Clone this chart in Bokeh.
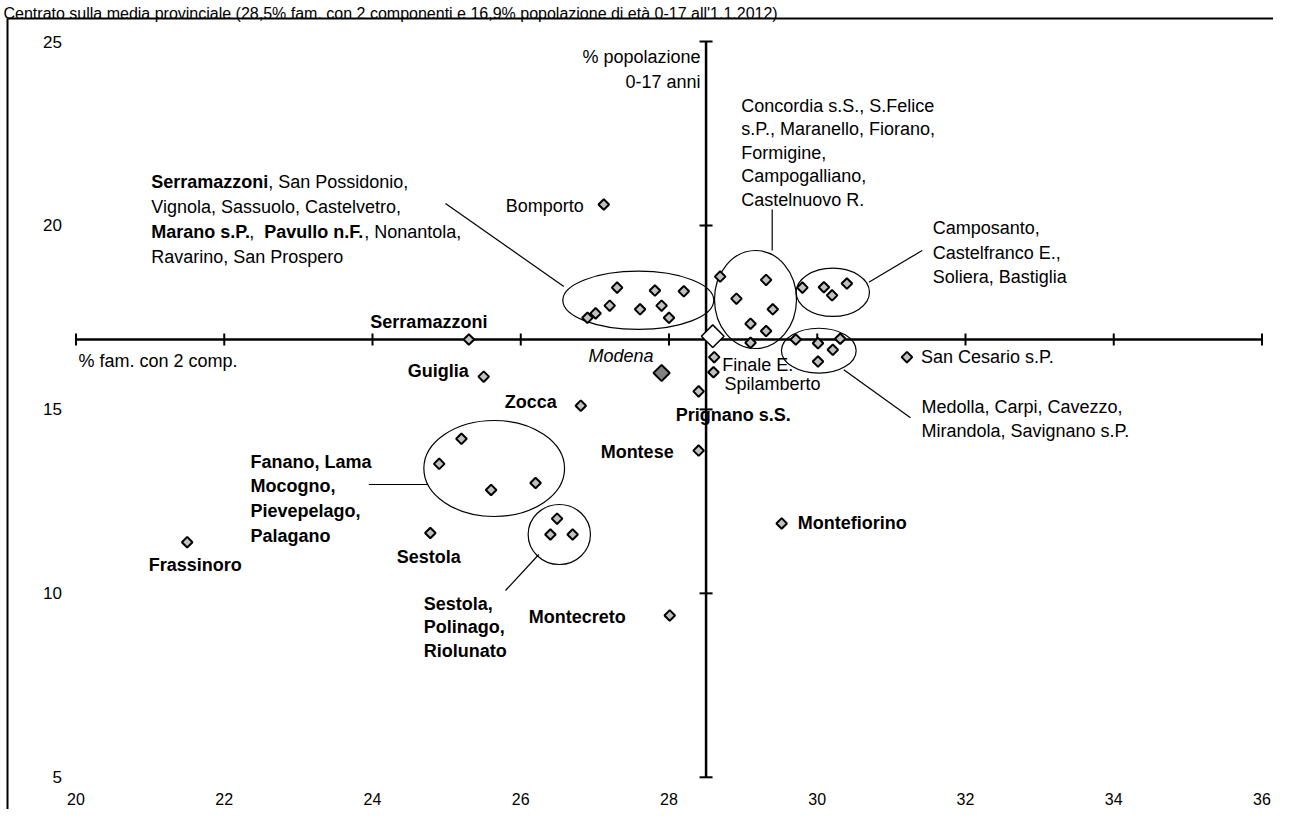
import numpy as np
from bokeh.plotting import figure
from bokeh.models import Range1d
from bokeh.core.properties import value
from bokeh.embed import file_html
from bokeh.resources import INLINE

# ---------------- data ----------------
title_text = ("Centrato sulla media provinciale (28,5% fam. con 2 componenti e 16,9% "
              "popolazione di età 0-17 all'1.1.2012)")
x_ticks = [20, 22, 24, 26, 28, 30, 32, 34, 36]
y_ticks = [5, 10, 15, 20, 25]
x_tick_labels = ["20", "22", "24", "26", "28", "30", "32", "34", "36"]
y_tick_labels = ["5", "10", "15", "20", "25"]

cross_x, cross_y = 28.5, 16.9          # provincial averages (axis crossing)
prov_x, prov_y = 28.59, 16.99          # province point (white diamond)
modena_x, modena_y = 27.90, 15.99      # Modena (dark diamond)

# groups circled in the chart
serr_x = [26.90, 27.01, 27.20, 27.30, 27.61, 27.81, 27.90, 28.00, 28.20]
serr_y = [17.49, 17.61, 17.82, 18.31, 17.72, 18.23, 17.82, 17.49, 18.21]
conc_x = [28.69, 29.31, 28.91, 29.40, 29.10, 29.31, 29.10]
conc_y = [18.61, 18.52, 18.01, 17.72, 17.33, 17.13, 16.81]
camp_x = [29.80, 30.09, 30.20, 30.40]
camp_y = [18.31, 18.32, 18.10, 18.42]
medo_x = [29.71, 30.01, 30.31, 30.21, 30.01]
medo_y = [16.90, 16.80, 16.92, 16.62, 16.30]
fana_x = [25.20, 24.90, 25.60, 26.20]
fana_y = [14.20, 13.52, 12.81, 13.00]
sest_x = [26.49, 26.40, 26.70]
sest_y = [12.03, 11.60, 11.60]

# single labelled municipalities
single_names = ["Bomporto", "Serramazzoni", "Guiglia", "Zocca", "Finale E.", "Spilamberto",
                "Prignano s.S.", "Montese", "San Cesario s.P.", "Sestola", "Frassinoro",
                "Montecreto", "Montefiorino"]
single_x = [27.12, 25.30, 25.50, 26.81, 28.61, 28.60, 28.40, 28.40, 31.21, 24.78, 21.50, 28.01, 29.52]
single_y = [20.57, 16.90, 15.89, 15.10, 16.42, 16.01, 15.49, 13.88, 16.42, 11.64, 11.39, 9.40, 11.90]

# ---------------- layout ----------------
W, H = 1273, 809
SX, SY = 74.125, 36.79             # px per unit
x_lo = 20 - 75.5 / SX
x_hi = x_lo + W / SX
y_hi = 25 + 41 / SY
y_lo = y_hi - H / SY


def X(px):
    return x_lo + px / SX


def Y(py):
    return y_hi - py / SY


FONT = value("Liberation Sans")

p = figure(width=W, height=H, x_range=Range1d(x_lo, x_hi), y_range=Range1d(y_lo, y_hi),
           x_axis_type=None, y_axis_type=None, min_border=0, toolbar_location=None,
           output_backend="svg", outline_line_color=None, title=None,
           background_fill_color="white", border_fill_color="white")


def txt(x, y, s, style="normal", align="left", size="18px", xo=0, yo=0, baseline="middle"):
    p.text(x=[x], y=[y], text=[s], text_font=FONT, text_font_size=size,
           text_font_style=style, text_align=align, text_baseline=baseline,
           x_offset=xo, y_offset=yo, text_color="black")


# frame border (left and top)
p.segment(x0=[X(7), X(7)], y0=[Y(18), Y(18)], x1=[X(1290), X(7)], y1=[Y(18), Y(830)],
          line_color="black", line_width=2)

# title
txt(X(3), Y(13), title_text, size="16px", baseline="alphabetic")

# crossing axes
p.segment(x0=[x_ticks[0], cross_x], y0=[cross_y, y_ticks[0]],
          x1=[x_ticks[-1], cross_x], y1=[cross_y, y_ticks[-1]],
          line_color="black", line_width=2.5)
p.scatter(x=x_ticks, y=[cross_y] * len(x_ticks), marker="dash", angle=np.pi / 2,
          size=12, line_color="black", line_width=2)
p.scatter(x=[cross_x] * len(y_ticks), y=y_ticks, marker="dash",
          size=13, line_color="black", line_width=2)

# tick labels
p.text(x=[x_ticks[0]] * len(y_ticks), y=y_ticks, text=y_tick_labels, text_font=FONT,
       text_font_size="17px", text_align="right", text_baseline="middle", x_offset=-14)
p.text(x=x_ticks, y=[y_ticks[0]] * len(x_ticks), text=x_tick_labels, text_font=FONT,
       text_font_size="16px", text_align="center", text_baseline="middle", y_offset=22)

# axis titles
txt(X(700), Y(56), "% popolazione", align="right")
txt(X(700), Y(81), "0-17 anni", align="right")
txt(X(78), Y(360), "% fam. con 2 comp.")

# ellipses around groups (annotation shapes)
ell_x = [X(637.8), X(755.0), X(832.3), X(818.3), X(493.7), X(558.8)]
ell_y = [Y(299.8), Y(299.0), Y(291.8), Y(350.2), Y(468.0), Y(534.0)]
ell_w = [151 / SX, 82 / SX, 73.3 / SX, 74.7 / SX, 140.7 / SX, 62.3 / SX]
ell_h = [58.3 / SY, 98 / SY, 48.3 / SY, 45 / SY, 96 / SY, 60 / SY]
p.ellipse(x=ell_x, y=ell_y, width=ell_w, height=ell_h, fill_color=None,
          line_color="black", line_width=1.2)

# leader lines
p.segment(x0=[X(445), X(771.7), X(868.3), X(843.3), X(368.3), X(538.3)],
          y0=[Y(203), Y(209), Y(281.7), Y(369.3), Y(484), Y(554)],
          x1=[X(563.3), X(771.7), X(921.7), X(910), X(427.3), X(505)],
          y1=[Y(286), Y(250), Y(250), Y(417.3), Y(484), Y(590)],
          line_color="black", line_width=1.2)

# markers
grey = "#c0c0c0"
all_x = serr_x + conc_x + camp_x + medo_x + fana_x + sest_x + single_x
all_y = serr_y + conc_y + camp_y + medo_y + fana_y + sest_y + single_y
p.scatter(x=all_x, y=all_y, marker="square", angle=np.pi / 4, size=7.5,
          fill_color=grey, line_color="black", line_width=2)
p.scatter(x=[modena_x], y=[modena_y], marker="square", angle=np.pi / 4, size=11.5,
          fill_color="#808080", line_color="black", line_width=2)
p.scatter(x=[prov_x], y=[prov_y], marker="square", angle=np.pi / 4, size=16,
          fill_color="white", line_color="black", line_width=1.5)

# single labels (offsets in px relative to their points)
lab_style = ["normal", "bold", "bold", "bold", "normal", "normal", "bold", "bold",
             "normal", "bold", "bold", "bold", "bold"]
lab_align = ["right", "center", "right", "right", "left", "left", "left", "right",
             "left", "center", "center", "right", "left"]
lab_xo = [-20, -40, -15, -24, 8, 11, -23, -25, 14, -1.5, 8, -44, 16]
lab_yo = [2, -17, -6, -4, 8, 12, 24, 1, 0, 24, 23, 2, 0]
for i, name in enumerate(single_names):
    txt(single_x[i], single_y[i], name, style=lab_style[i], align=lab_align[i],
        xo=lab_xo[i], yo=lab_yo[i])
txt(modena_x, modena_y, "Modena", style="italic", align="right", xo=-8, yo=-17)

# group label: Serramazzoni & co (mixed bold)
gx = X(150.7)
txt(gx, Y(181.7), "Serramazzoni", style="bold")
txt(gx, Y(181.7), ", San Possidonio,", xo=117)
txt(gx, Y(206.7), "Vignola, Sassuolo, Castelvetro,")
txt(gx, Y(231.0), "Marano s.P.", style="bold")
txt(gx, Y(231.0), ",", xo=98)
txt(gx, Y(231.0), "Pavullo n.F.", style="bold", xo=113)
txt(gx, Y(231.0), ", Nonantola,", xo=213)
txt(gx, Y(256.7), "Ravarino, San Prospero")

# group label: Concordia & co
conc_lines = ["Concordia s.S., S.Felice", "s.P., Maranello, Fiorano,", "Formigine,",
              "Campogalliano,", "Castelnuovo R."]
for i, s in enumerate(conc_lines):
    txt(X(740.7), Y(105 + 23.6 * i), s)

# group label: Camposanto & co
for i, s in enumerate(["Camposanto,", "Castelfranco E.,", "Soliera, Bastiglia"]):
    txt(X(932.3), Y(227.3 + 24.7 * i), s)

# group label: Medolla & co
for i, s in enumerate(["Medolla, Carpi, Cavezzo,", "Mirandola, Savignano s.P."]):
    txt(X(921), Y(406 + 24 * i), s)

# group label: Fanano & co (bold)
for i, s in enumerate(["Fanano, Lama", "Mocogno,", "Pievepelago,", "Palagano"]):
    txt(X(250), Y(461 + 24.7 * i), s, style="bold")

# group label: Sestola & co (bold)
for i, s in enumerate(["Sestola,", "Polinago,", "Riolunato"]):
    txt(X(423.3), Y(603.3 + 23.4 * i), s, style="bold")

open("out.html", "w").write(file_html(p, INLINE))
